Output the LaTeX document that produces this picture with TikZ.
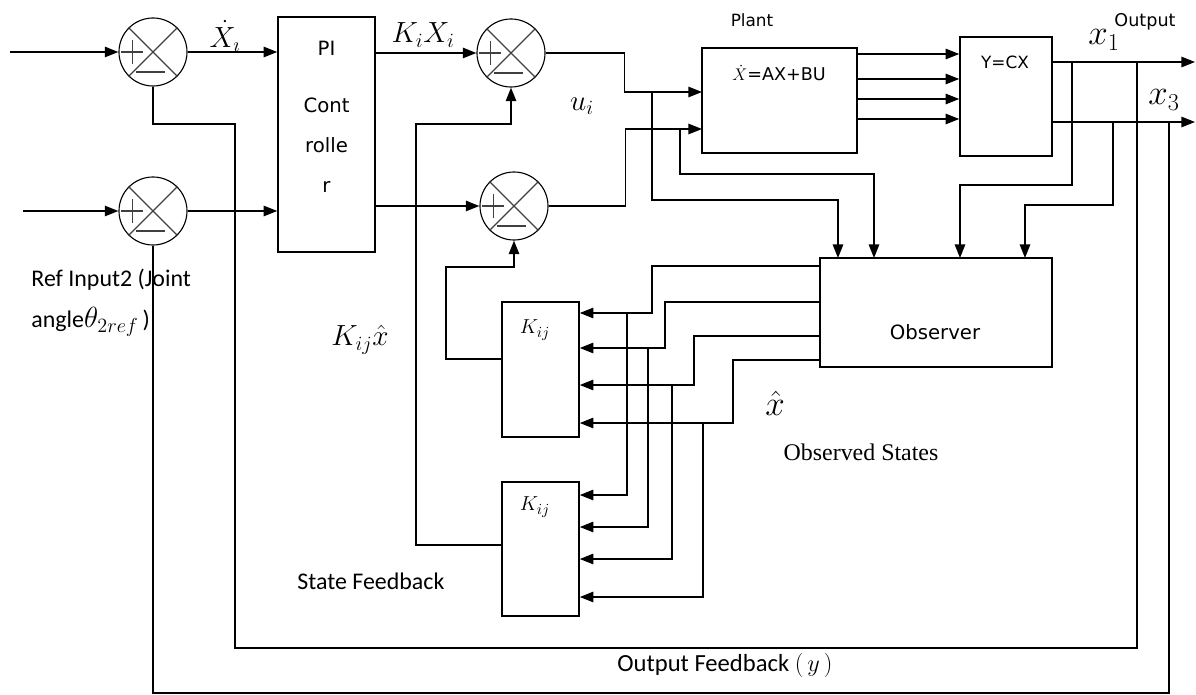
\documentclass[tikz,border=0pt]{standalone}
\usepackage{fontspec}
\setmainfont{DejaVu Sans}
\newfontfamily\calfont{Carlito}
\newfontfamily\serfont{Liberation Serif}
\usetikzlibrary{arrows.meta}

\begin{document}
\begin{tikzpicture}[x=0.025cm,y=-0.025cm,line width=1.1pt,>={Triangle[length=0.34cm,width=0.26cm]},
  blk/.style={draw,inner sep=0pt},
  sumj/.style={draw,circle,inner sep=0pt,minimum size=1.7cm,line width=0.8pt},
  sym/.style={line width=0.8pt,black!75},
  vtxt/.style={font=\fontsize{12}{14}\selectfont},
  ctxt/.style={font=\calfont\fontsize{17}{20}\selectfont},
  mtxt/.style={font=\fontsize{21}{25}\selectfont}]
\useasboundingbox (0,0) rectangle (1196,695);
\node[sumj] (s1) at (153,52) {};
\node[sumj] (s2) at (153,211) {};
\node[sumj] (s3) at (511,53) {};
\node[sumj] (s4) at (514,206) {};
\foreach \s in {s1,s2,s3,s4}{
  \draw[sym] (\s.45)--(\s.225) (\s.135)--(\s.-45);
  \draw[sym] ([xshift=-0.52cm,yshift=-0.3cm]\s.center)--++(0,0.6cm) ([xshift=-0.8cm]\s.center)--++(0.56cm,0);
  \draw[sym] ([xshift=-0.42cm,yshift=-0.5cm]\s.center)--++(0.72cm,0);
}
\node[blk,minimum width=2.425cm,minimum height=5.875cm] (pi) at (326.5,134.5) {};
\node[blk,minimum width=3.875cm,minimum height=2.625cm] (plant) at (779.5,100.5) {};
\node[blk,minimum width=2.3cm,minimum height=2.975cm] (ycx) at (1006,96.5) {};
\node[blk,minimum width=5.8cm,minimum height=2.725cm] (obs) at (936,312.5) {};
\node[blk,minimum width=1.925cm,minimum height=3.375cm] (k1) at (540.5,369.5) {};
\node[blk,minimum width=1.925cm,minimum height=3.35cm] (k2) at (540.5,549) {};
\node[anchor=north,align=center,inner sep=0pt,font=\fontsize{14}{28.5}\selectfont] (pitxt) at (326.5,40) {PI\\[12pt]Cont\\rolle\\r};
\node[vtxt] (plantlbl) at (752,20) {Plant};
\node[font=\fontsize{12.5}{15}\selectfont] (plantf) at (779,73) {{\large$\dot{X}$}=AX+BU};
\node[vtxt] (ycxf) at (1005,62) {Y=CX};
\node[font=\fontsize{12.5}{15}\selectfont] (outlbl) at (1145,22) {Output};
\node[font=\fontsize{14}{17}\selectfont] (obslbl) at (935,332) {Observer};
\node[font=\fontsize{22}{26}\selectfont] (xdot) at (225,36) {$\dot{X}_\imath$};
\node[mtxt] (kixi) at (423,35) {$K_iX_i$};
\node[mtxt] (ui) at (582,106) {$u_i$};
\node[mtxt,font=\fontsize{23}{27}\selectfont] (x1) at (1104,40) {$x_1$};
\node[mtxt,font=\fontsize{23}{27}\selectfont] (x3) at (1164,100) {$x_3$};
\node[mtxt] (kx) at (360,340) {$K_{ij}\hat{x}$};
\node[font=\fontsize{15}{18}\selectfont] (k1l) at (535,330) {$K_{ij}$};
\node[font=\fontsize{15}{18}\selectfont] (k2l) at (535,507) {$K_{ij}$};
\node[font=\fontsize{30}{34}\selectfont] (xhat) at (775,403) {$\hat{x}$};
\node[font=\serfont\fontsize{17}{20}\selectfont] (obsst) at (861,452) {Observed States};
\node[ctxt,anchor=west] (ref1) at (26,280) {Ref Input2 (Joint};
\node[ctxt,anchor=west] (ref2) at (26,322) {angle{\fontsize{22}{26}\selectfont$\theta_{2ref}$}\,)};
\node[ctxt,anchor=west] (sfb) at (292,581) {State Feedback};
\node[ctxt,font=\calfont\fontsize{17.5}{20}\selectfont] (ofb) at (725,665) {Output Feedback $(\,y\,)$};
\coordinate (in1) at (10,52);
\coordinate (in2) at (23,211);
\coordinate (u1in) at (702,92);
\coordinate (u2in) at (702,129);
\coordinate (b1) at (652,92);
\coordinate (b2) at (680,129);
\coordinate (oi1) at (838,258);
\coordinate (oi2) at (874,258);
\coordinate (oi3) at (960,258);
\coordinate (oi4) at (1025,258);
\coordinate (y1out) at (1195,62);
\coordinate (y3out) at (1195,122);
\coordinate (c1) at (1072,62);
\coordinate (c3) at (1113,122);
\coordinate (yb1) at (1137,62);
\coordinate (yb3) at (1169,122);
\draw[->] (in1) -- (s1.west);
\draw[->] (in2) -- (s2.west);
\draw[->] (s1.east) -- (s1 -| pi.west);
\draw[->] (s2.east) -- (s2 -| pi.west);
\draw[->] (s3 -| pi.east) -- (s3.west);
\draw[->] (s4 -| pi.east) -- (s4.west);
\draw[->] (s3.east) -- ++(79,0) |- (u1in);
\draw[->] (s4.east) -- ++(77,0) |- (u2in);
\draw[->] (b1) -- ++(0,108) -| (oi1);
\draw[->] (b2) -- ++(0,45) -| (oi2);
\foreach \y in {54,79,99,119}
  \draw[->] (plant.east |- 0,\y) -- (ycx.west |- 0,\y);
\draw[->] (ycx.east |- y1out) -- (y1out);
\draw[->] (ycx.east |- y3out) -- (y3out);
\draw[->] (c1) -- ++(0,123) -| (oi3);
\draw[->] (c3) -- ++(0,83) -| (oi4);
\draw (yb1) |- (235,648) |- (153,124) -- (s1.south);
\draw (yb3) |- (153,693) -- (s2.south);
\foreach \yo/\xt/\ya/\xj/\yb in {266/652/313/627/495,302/665/348/648/527,336/694/385/672/559,360/733/423/703/597}{
  \draw[->] (obs.west |- 0,\yo) -| (\xt,\ya) -- (k1.east |- 0,\ya);
  \draw[->] (\xj,\ya) |- (k2.east |- 0,\yb);
}
\draw[->] (k1.west |- 0,359) -| (446,267) -| (s4.south);
\draw[->] (k2.west |- 0,545) -| (416,124) -| (s3.south);
\end{tikzpicture}
\end{document}
